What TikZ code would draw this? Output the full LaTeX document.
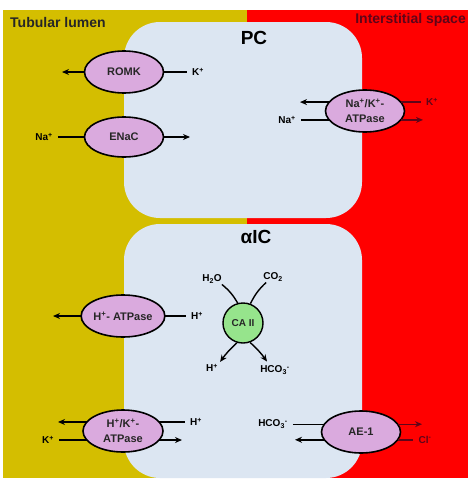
\documentclass[tikz,border=0pt]{standalone}
\usepackage{fontspec}
\setmainfont{Liberation Sans}
\usetikzlibrary{shapes.geometric,arrows.meta}
\definecolor{lumen}{RGB}{212,190,0}
\definecolor{inter}{RGB}{255,0,0}
\definecolor{cellc}{RGB}{220,230,242}
\definecolor{chanc}{RGB}{218,170,222}
\definecolor{enzc}{RGB}{150,228,140}
\definecolor{darkred}{RGB}{95,5,25}
\begin{document}
\begin{tikzpicture}[x=1pt,y=-1pt,
  chan/.style={ellipse, draw=black, line width=1.6pt, fill=chanc, minimum width=79pt, minimum height=42pt, inner sep=0pt, outer sep=0pt, text=black!85, font=\bfseries\fontsize{11}{15}\selectfont, align=center},
  lbl/.style={font=\bfseries\fontsize{10}{11}\selectfont, inner xsep=5pt, inner ysep=1pt},
  clbl/.style={font=\bfseries\fontsize{10}{11}\selectfont, inner sep=1pt},
  ttl/.style={font=\bfseries\fontsize{14}{16}\selectfont, inner sep=0pt},
  big/.style={font=\bfseries\fontsize{19}{21}\selectfont, inner sep=0pt},
  ln/.style={line width=1.4pt},
  arr/.style={ln, -{Stealth[length=7pt,width=6pt]}}]
\useasboundingbox (0,0) rectangle (473,485);
\fill[white] (0,0) rectangle (473,485);
\fill[lumen] (3,10) rectangle (247,478);
\fill[inter] (247,10) rectangle (468,478);
\fill[cellc, rounded corners=36pt] (124,22) rectangle (362,218);
\fill[cellc, rounded corners=36pt] (124,224) rectangle (362,478);

\node[ttl, anchor=west, text=black!85] (lumen) at (10,22) {Tubular lumen};
\node[ttl, anchor=east, text=darkred] (inter) at (466,20) {Interstitial space};
\node[big] (pc) at (254,38) {PC};
\node[big] (aic) at (256,237) {αIC};

% ROMK
\node[chan] (romk) at (124,72) {ROMK};
\node[lbl] (romkK) at (198,72) {K\textsuperscript{+}};
\coordinate (romkL) at (62,72);
\draw[arr] (romk.west) -- (romkL);
\draw[ln] (romkK.west) -- (romk.east);

% ENaC
\node[chan, minimum height=40pt] (enac) at (124,137) {ENaC};
\node[lbl] (enacNa) at (44,137) {Na\textsuperscript{+}};
\coordinate (enacR) at (190,137);
\draw[ln] (enacNa.east) -- (enac.west);
\draw[arr] (enac.east) -- (enacR);

% Na/K ATPase
\node[chan] (nak) at (365,111) {Na\textsuperscript{+}/K\textsuperscript{+}-\\ATPase};
\coordinate (nakUL) at (300,102);
\draw[arr] (nak.166) -- (nak.166 -| nakUL);
\node[lbl, text=darkred] (nakK) at (432,102) {K\textsuperscript{+}};
\draw[ln, darkred] (nak.14) -- (nak.14 -| nakK.west);
\node[lbl] (nakNa) at (287,120) {Na\textsuperscript{+}};
\draw[ln] (nak.194 -| nakNa.east) -- (nak.194);
\coordinate (nakLR) at (423,120);
\draw[arr, darkred] (nak.-14) -- (nak.-14 -| nakLR);

% CA II
\node[circle, draw=black, line width=1.4pt, fill=enzc, minimum size=40pt, inner sep=0pt, text=black!85, font=\bfseries\fontsize{10}{11}\selectfont] (ca) at (243,323) {CA II};
\node[clbl] (h2o) at (212,279) {H\textsubscript{2}O};
\node[clbl] (co2) at (273,277) {CO\textsubscript{2}};
\node[clbl] (hp) at (212,368) {H\textsuperscript{+}};
\node[clbl] (hco) at (275,370) {HCO\textsubscript{3}\textsuperscript{-}};
\draw[ln] ([xshift=-1pt]h2o.south east) to[bend left=10] (ca.105);
\draw[ln] ([xshift=4pt]co2.south west) to[bend right=10] (ca.69);
\draw[arr] (ca.253) to[bend right=6] ([xshift=1pt,yshift=1pt]hp.north east);
\draw[arr] (ca.-70) to[bend left=6] ([xshift=-8pt,yshift=3pt]hco.north);

% H+-ATPase
\node[chan, minimum width=80pt] (hatp) at (123,316) {H\textsuperscript{+}- ATPase};
\coordinate (hatpL) at (53,316);
\draw[arr] (hatp.west) -- (hatpL);
\node[lbl] (hatpH) at (197,316) {H\textsuperscript{+}};
\draw[ln] (hatpH.west) -- (hatp.east);

% H+/K+-ATPase
\node[chan, minimum width=80pt] (hk) at (123,431) {H\textsuperscript{+}/K\textsuperscript{+}-\\ATPase};
\coordinate (hkUL) at (58,422);
\draw[arr] (hk.166) -- (hk.166 -| hkUL);
\node[lbl] (hkH) at (196,422) {H\textsuperscript{+}};
\draw[ln] (hk.14) -- (hk.14 -| hkH.west);
\node[lbl] (hkK) at (48,440) {K\textsuperscript{+}};
\draw[ln] (hk.194 -| hkK.east) -- (hk.194);
\coordinate (hkLR) at (182,440);
\draw[arr] (hk.-14) -- (hk.-14 -| hkLR);

% AE-1
\node[chan] (ae) at (361,432) {AE-1};
\node[lbl] (aeHCO) at (273,424) {HCO\textsubscript{3}\textsuperscript{-}};
\draw[ln] (ae.168 -| aeHCO.east) -- (ae.168);
\coordinate (aeUR) at (422,424);
\draw[arr, darkred] (ae.12) -- (ae.12 -| aeUR);
\coordinate (aeLL) at (295,440);
\draw[arr] (ae.192) -- (ae.192 -| aeLL);
\node[lbl, text=darkred] (aeCl) at (425,440) {Cl\textsuperscript{-}};
\draw[ln, darkred] (ae.-12) -- (ae.-12 -| aeCl.west);
\end{tikzpicture}
\end{document}
